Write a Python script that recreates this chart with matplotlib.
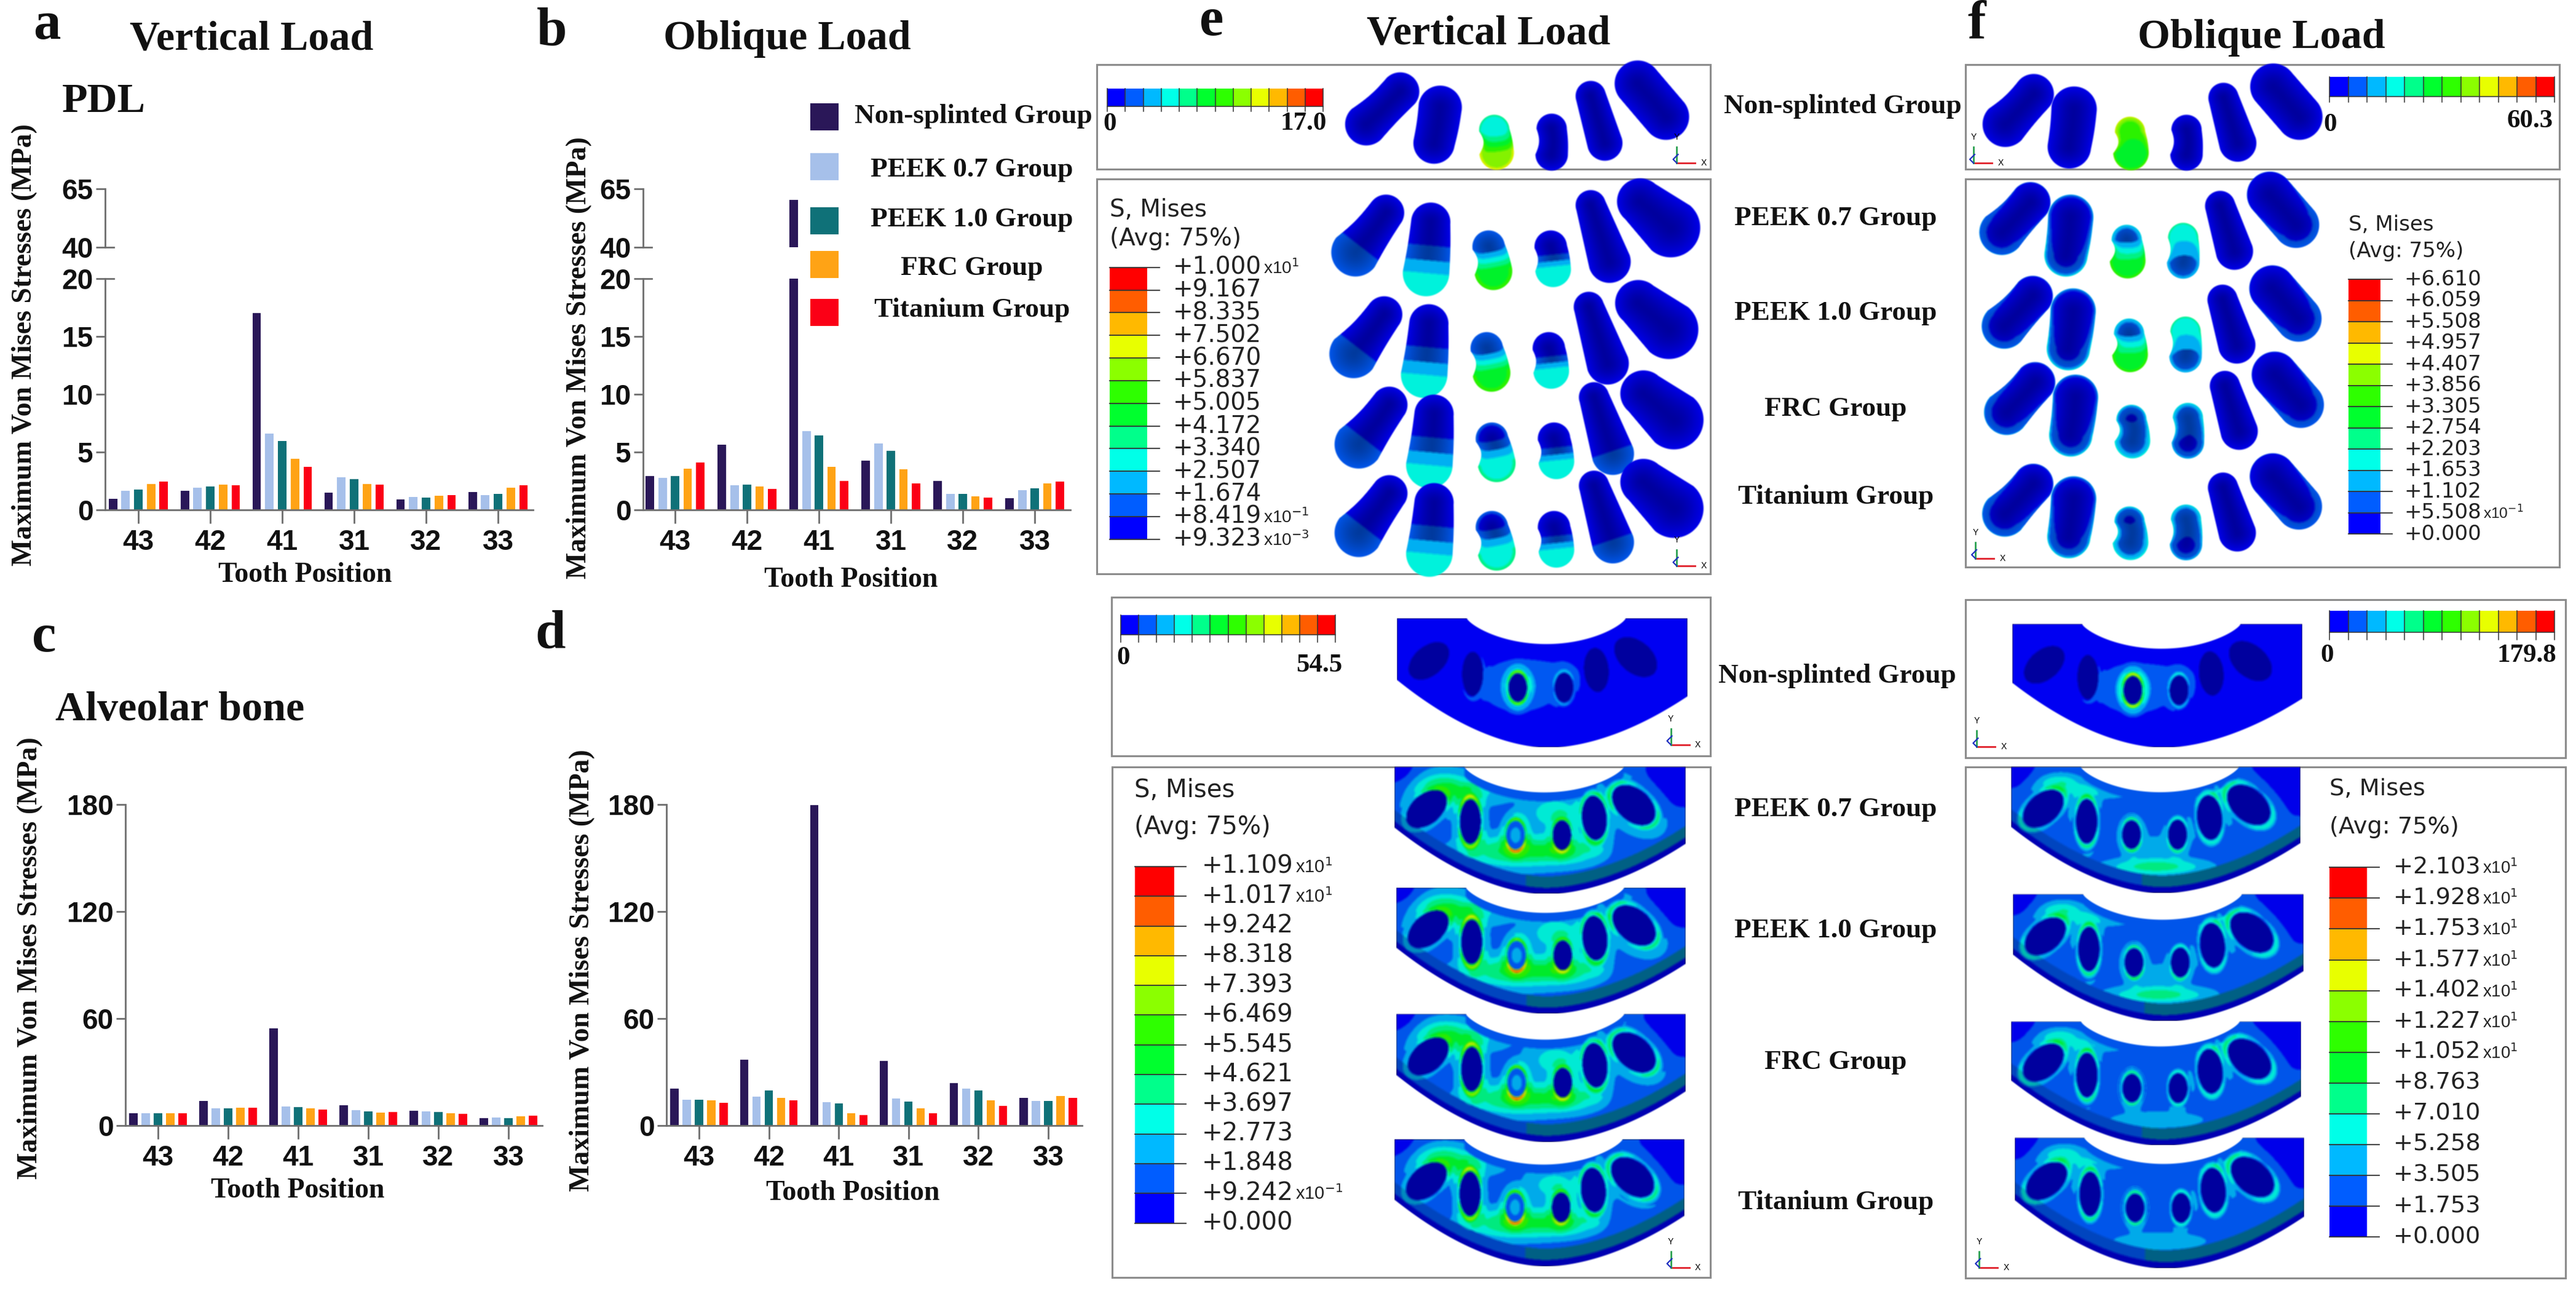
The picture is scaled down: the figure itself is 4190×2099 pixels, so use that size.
import numpy as np
import matplotlib
matplotlib.use("Agg")
import matplotlib.pyplot as plt
from matplotlib.patches import Rectangle
from matplotlib.lines import Line2D

W, H = 4190, 2099
SERIF = "Liberation Serif"
SANS = "Liberation Sans"

# ---------------- data ----------------
teeth = ["43", "42", "41", "31", "32", "33"]
groups = ["Non-splinted Group", "PEEK 0.7 Group", "PEEK 1.0 Group", "FRC Group", "Titanium Group"]
group_colors = ["#2a1758", "#a6c0ea", "#0f7178", "#ffa315", "#fb0016"]

a_non = [0.95, 1.63, 17.0, 1.50, 0.92, 1.56]
a_p07 = [1.63, 1.93, 6.58, 2.81, 1.12, 1.29]
a_p10 = [1.73, 2.00, 5.97, 2.64, 1.08, 1.36]
a_frc = [2.24, 2.17, 4.44, 2.24, 1.22, 1.93]
a_ti = [2.44, 2.14, 3.73, 2.20, 1.25, 2.14]

b_non = [2.92, 5.66, 60.3, 4.27, 2.51, 1.02]
b_p07 = [2.78, 2.14, 6.81, 5.73, 1.36, 1.69]
b_p10 = [2.92, 2.17, 6.41, 5.08, 1.36, 1.86]
b_frc = [3.59, 2.00, 3.73, 3.49, 1.19, 2.27]
b_ti = [4.07, 1.80, 2.51, 2.31, 1.05, 2.44]

c_non = [6.8, 13.9, 54.5, 11.4, 8.4, 4.2]
c_p07 = [6.8, 9.7, 10.6, 8.6, 7.9, 4.4]
c_p10 = [6.8, 9.7, 10.3, 7.9, 7.5, 4.2]
c_frc = [7.0, 10.1, 9.5, 7.3, 7.0, 5.3]
c_ti = [7.0, 9.9, 8.8, 7.7, 6.4, 5.5]

d_non = [20.7, 37.0, 179.8, 36.1, 23.8, 15.4]
d_p07 = [14.5, 16.3, 13.0, 15.2, 20.7, 13.9]
d_p10 = [14.5, 19.6, 12.3, 13.6, 19.6, 13.9]
d_frc = [14.3, 15.4, 7.0, 9.7, 14.1, 16.7]
d_ti = [12.8, 14.1, 5.9, 7.0, 11.2, 15.4]

e_teeth_labels = ["+1.000", "+9.167", "+8.335", "+7.502", "+6.670", "+5.837", "+5.005",
                  "+4.172", "+3.340", "+2.507", "+1.674", "+8.419", "+9.323"]
f_teeth_labels = ["+6.610", "+6.059", "+5.508", "+4.957", "+4.407", "+3.856", "+3.305",
                  "+2.754", "+2.203", "+1.653", "+1.102", "+5.508", "+0.000"]
e_bone_labels = ["+1.109", "+1.017", "+9.242", "+8.318", "+7.393", "+6.469", "+5.545",
                 "+4.621", "+3.697", "+2.773", "+1.848", "+9.242", "+0.000"]
f_bone_labels = ["+2.103", "+1.928", "+1.753", "+1.577", "+1.402", "+1.227", "+1.052",
                 "+8.763", "+7.010", "+5.258", "+3.505", "+1.753", "+0.000"]

abaqus = np.array([(0, 0, 255), (0, 93, 255), (0, 185, 255), (0, 255, 232), (0, 255, 139), (0, 255, 46),
                   (46, 255, 0), (139, 255, 0), (232, 255, 0), (255, 185, 0), (255, 93, 0), (255, 0, 0)]) / 255.0

# ---------------- figure ----------------
fig = plt.figure(figsize=(W / 100, H / 100), dpi=100, facecolor="white")
AXC = "#6e6e6e"


def add_ax(l, r, top, bottom):
    ax = fig.add_axes([l / W, 1 - bottom / H, (r - l) / W, (bottom - top) / H])
    ax.patch.set_alpha(0)
    for s in ("top", "right"):
        ax.spines[s].set_visible(False)
    return ax


def bars(ax, series, x_sp, x_end, tick0, spacing, pitch, barw):
    ax.set_xlim((x_sp - tick0) / spacing, (x_end - tick0) / spacing)
    for i, (vals, col) in enumerate(zip(series, group_colors)):
        ax.bar(np.arange(len(teeth)) + (i - 2) * pitch / spacing, vals, barw / spacing, color=col, linewidth=0)


def style(ax, ticks):
    for s in ("left", "bottom"):
        ax.spines[s].set_color(AXC)
        ax.spines[s].set_linewidth(2.0)
    ax.set_yticks(ticks)
    ax.tick_params(axis="y", length=11, width=2.0, color=AXC, labelsize=33, pad=3, labelcolor="#111111")
    ax.tick_params(axis="x", length=16, width=2.0, color=AXC, labelsize=33, pad=6, labelcolor="#111111")
    for t in ax.get_xticklabels() + ax.get_yticklabels():
        t.set_fontfamily(SANS)
        t.set_fontweight("bold")


def broken_panel(series, x_sp, x_end, tick0, spacing, pitch, barw):
    low = add_ax(x_sp, x_end, 453, 829)
    up = add_ax(x_sp, x_end, 307, 402)
    for ax in (low, up):
        bars(ax, series, x_sp, x_end, tick0, spacing, pitch, barw)
    low.set_ylim(0, 20)
    up.set_ylim(40, 65)
    low.set_xticks(range(len(teeth)), teeth)
    style(low, [0, 5, 10, 15, 20])
    style(up, [40, 65])
    up.spines["bottom"].set_visible(False)
    up.xaxis.set_visible(False)
    for ax, frac in ((low, 1.0), (up, 0.0)):
        ax.add_line(Line2D([0, 14 / (x_end - x_sp)], [frac, frac], transform=ax.transAxes,
                           color=AXC, lw=2.0, clip_on=False))


def plain_panel(series, x_sp, x_end, tick0, spacing, pitch, barw):
    ax = add_ax(x_sp, x_end, 1308, 1830)
    bars(ax, series, x_sp, x_end, tick0, spacing, pitch, barw)
    ax.set_ylim(0, 180)
    ax.set_xticks(range(len(teeth)), teeth)
    style(ax, [0, 60, 120, 180])


broken_panel([a_non, a_p07, a_p10, a_frc, a_ti], 171, 867, 225, 117, 20.7, 13.8)
broken_panel([b_non, b_p07, b_p10, b_frc, b_ti], 1046, 1741, 1098, 117, 20.4, 13.8)
plain_panel([c_non, c_p07, c_p10, c_frc, c_ti], 204, 882, 257, 114, 20.0, 13.2)
plain_panel([d_non, d_p07, d_p10, d_frc, d_ti], 1084, 1760, 1137, 113.6, 20.0, 13.2)

ov = fig.add_axes([0, 0, 1, 1], zorder=10)
ov.set_xlim(0, W)
ov.set_ylim(H, 0)
ov.axis("off")
ov.set_autoscale_on(False)


def serif(x, y, s, size, **kw):
    kw.setdefault("ha", "center")
    kw.setdefault("va", "center")
    ov.text(x, y, s, fontsize=size, family=SERIF, fontweight="bold", color="#111111", **kw)


for (x, y, s) in [(76, 42, "a"), (898, 52, "b"), (72, 1038, "c"), (895, 1032, "d"), (1971, 36, "e"), (3215, 40, "f")]:
    serif(x, y, s, 64)
serif(409, 64, "Vertical Load", 49)
serif(1280, 64, "Oblique Load", 49)
serif(2421, 55, "Vertical Load", 49)
serif(3678, 62, "Oblique Load", 49)
serif(169, 165, "PDL", 49)
serif(293, 1155, "Alveolar bone", 49)

YL = "Maximum Von Mises Stresses (MPa)"
for x, y in [(40, 561), (942, 582), (49, 1558), (947, 1578)]:
    serif(x, y, YL, 33, rotation=90)
for x, y in [(496, 935), (1384, 943), (484, 1936), (1387, 1940)]:
    serif(x, y, "Tooth Position", 33)

for top, col in zip([168, 249, 337, 408, 486], group_colors):
    ov.add_patch(Rectangle((1318, top), 46, 44, facecolor=col, edgecolor="none"))
for y, s, x in zip([189, 276, 357, 436, 504], groups, [1583, 1581, 1581, 1581, 1581]):
    serif(x, y, s, 32.5)

for x, y, s in zip([2997, 2986, 2986, 2986, 2986], [173, 355, 509, 665, 808], groups):
    serif(x, y, s, 32.5)
for x, y, s in zip([2988, 2986, 2986, 2986, 2986], [1099, 1316, 1513, 1727, 1955], groups):
    serif(x, y, s, 32.5)

for l, t, r, b in [(1784, 105, 2782, 275), (1784, 291, 2782, 933), (3197, 105, 4163, 275), (3197, 291, 4163, 922),
                   (1808, 971, 2782, 1229), (1809, 1247, 2782, 2077), (3197, 975, 4173, 1232), (3197, 1247, 4173, 2078)]:
    ov.add_patch(Rectangle((l, t), r - l, b - t, fill=False, edgecolor="#8c8c8c", lw=2.2))


def hbar(l, r, t, b, tickb, lab0, lab1, xl0, xl1, yl0, yl1):
    xs = np.linspace(l, r, 13)
    for i in range(12):
        ov.add_patch(Rectangle((xs[i], t), xs[i + 1] - xs[i], b - t, facecolor=abaqus[i], edgecolor="none"))
    for x in xs:
        ov.plot([x, x], [t, tickb], color="#333333", lw=1.1)
    ov.plot([l, r], [b, b], color="#333333", lw=1.1)
    serif(xl0, yl0, lab0, 31)
    serif(xl1, yl1, lab1, 31)


hbar(1801, 2152, 144, 173, 181, "0", "17.0", 1805, 2120, 202, 201)
hbar(3789, 4155, 125, 157, 166, "0", "60.3", 3790, 4115, 203, 197)
hbar(1823, 2172, 1000, 1032, 1044, "0", "54.5", 1827, 2146, 1070, 1082)
hbar(3789, 4155, 993, 1028, 1040, "0", "179.8", 3785, 4110, 1066, 1066)


def vbar(title_x, y1, y2, l, r, t, b, tick_r, lab_x, labels, fs, mult):
    ov.text(title_x, y1, "S, Mises", fontsize=fs, family="DejaVu Sans", va="center", color="#222222")
    ov.text(title_x, y2, "(Avg: 75%)", fontsize=fs, family="DejaVu Sans", va="center", color="#222222")
    ys = np.linspace(t, b, 13)
    for i in range(12):
        ov.add_patch(Rectangle((l, ys[i]), r - l, ys[i + 1] - ys[i], facecolor=abaqus[11 - i], edgecolor="none"))
    for y in ys:
        ov.plot([l, tick_r], [y, y], color="#333333", lw=1.3)
    for y, s, m in zip(ys, labels, mult):
        ov.text(lab_x, y, s, fontsize=fs, family="DejaVu Sans", va="center", color="#222222")
        if m:
            width = fs * 3.72 / 0.72
            ov.text(lab_x + width + 3, y + 1, "x10$^{%s}$" % m, fontsize=fs * 0.72, family=SANS, va="center",
                    color="#222222")


E1 = lambda v: 1780 + v * 1200 / 1568
Y1 = lambda v: v * 960 / 1568
F1 = lambda v: 2980 + v * 1210 / 1568
Y2 = lambda v: 960 + v * 1139 / 1568

vbar(E1(33), Y1(557), Y1(633), E1(33), E1(112), Y1(710), Y1(1432), E1(138), E1(167), e_teeth_labels, 28,
     ["1"] + [""] * 10 + ["-1", "-3"])
vbar(F1(1088), Y1(597), Y1(668), F1(1088), F1(1156), Y1(742), Y1(1418), F1(1180), F1(1205), f_teeth_labels, 24.5,
     [""] * 11 + ["-1", ""])
vbar(E1(85), Y2(448), Y2(530), E1(86), E1(170), Y2(618), Y2(1416), E1(195), E1(228), e_bone_labels, 29,
     ["1", "1"] + [""] * 9 + ["-1", ""])
vbar(F1(1048), Y2(445), Y2(530), F1(1048), F1(1128), Y2(620), Y2(1447), F1(1153), F1(1183), f_bone_labels, 27.5,
     ["1"] * 7 + [""] * 6)


def triad(x, y):
    ov.plot([x, x + 30], [y, y], color="#e0202a", lw=2)
    ov.plot([x, x], [y, y - 26], color="#2aa050", lw=2)
    ov.plot([x, x - 6, x + 2], [y, y - 6, y - 14], color="#2030c0", lw=1.6)
    ov.text(x + 44, y, "X", fontsize=10, family=SANS, ha="center", va="center")
    ov.text(x, y - 42, "Y", fontsize=10, family=SANS, ha="center", va="center")


for x, y in [(E1(1238), Y1(433)), (E1(1238), Y1(1503)), (F1(298), Y1(433)), (F1(302), Y1(1483)),
             (E1(1225), Y2(345)), (E1(1225), Y2(1515)), (F1(305), Y2(350)), (F1(310), Y2(1515))]:
    triad(x, y)


# ---------------- FEA illustrations ----------------
def blur(a, n=2):
    k = np.ones(2 * n + 1) / (2 * n + 1)
    a = np.apply_along_axis(lambda c: np.convolve(c, k, mode="same"), 0, a)
    return np.apply_along_axis(lambda c: np.convolve(c, k, mode="same"), 1, a)


def colourise(L, shade, alpha):
    idx = np.clip(np.floor(L).astype(int), 0, 11)
    rgb = abaqus[idx] * shade[..., None]
    out = [blur(rgb[..., i]) for i in range(3)] + [blur(alpha, 1)]
    return np.clip(np.dstack(out), 0, 1)


def tooth(x0, y0, r0, x1, y1, r1, lo, hi, rim=0.0, p=1.0, bend=0.0, waist=0.0, rimw=5.0):
    m = max(r0, r1) + abs(bend) + 8
    xmin, xmax = int(min(x0, x1) - m), int(max(x0, x1) + m)
    ymin, ymax = int(min(y0, y1) - m), int(max(y0, y1) + m)
    X, Y = np.meshgrid(np.arange(xmin, xmax) + .5, np.arange(ymin, ymax) + .5)
    dx, dy = x1 - x0, y1 - y0
    ln = np.hypot(dx, dy)
    proj = ((X - x0) * dx + (Y - y0) * dy) / ln
    t = np.clip(proj / ln, 0, 1)
    s = ((X - x0) * (-dy) + (Y - y0) * dx) / ln
    d = np.hypot(proj - t * ln, s - bend * np.sin(np.pi * t))
    r = r0 + (r1 - r0) * t - waist * np.sin(np.pi * t)
    margin = r - d
    grad = lo + (hi - lo) * t ** p if hi >= lo else hi + (lo - hi) * (1 - t) ** p
    L = grad + rim * np.exp(-np.clip(margin, 0, None) / rimw)
    shade = np.where(L < 2, 0.62 + 0.3 * np.clip(d / r, 0, 1) ** 1.5, 0.95)
    ov.imshow(colourise(L, shade, np.clip(margin + .5, 0, 1)), extent=(xmin, xmax, ymax, ymin),
              aspect="auto", interpolation="bilinear", zorder=2)


TS = [.82, .84, .88, .88, .82, .80]
SHAPE = [(1, 2), (1, 0), (-4, 3), (-3, 2), (0, 0), (0, 0)]
e_tooth_geo = [(578, 330, 42, 650, 243, 38), (722, 380, 40, 735, 285, 42), (850, 345, 28, 855, 405, 32),
               (972, 342, 28, 972, 410, 30), (1055, 255, 30, 1085, 380, 35), (1155, 222, 47, 1215, 310, 47)]
e_row_geo = [(555, 670, 48, 620, 565, 36), (705, 725, 45, 715, 590, 38), (838, 655, 30, 848, 720, 35),
             (970, 655, 30, 975, 715, 33), (1055, 545, 30, 1095, 695, 42), (1160, 535, 47, 1225, 605, 60)]
f_tooth_geo = [(365, 330, 45, 425, 250, 40), (500, 390, 42, 510, 290, 44), (628, 350, 28, 630, 405, 33),
               (747, 345, 28, 747, 410, 30), (825, 260, 30, 855, 380, 37), (930, 230, 47, 985, 310, 47)]

# level, level, rim, gradient power for each of the six teeth
e_top_lv = [(0, 0, 0, 1), (0, 0, 0, 1), (3, 7.2, 1.6, 1.2), (0, 0, 0, 1), (0, 0, 0, 1), (0, 0, 0, 1)]
e_hi_lv = [(1.4, 0, 0, 2), (3.0, 0, 0, 1.4), (1.2, 5.8, .6, 1.2), (.3, 3.6, 0, 1.5), (0, .5, 0, 1), (0, .5, 0, 1)]
e_lo_lv = [(1.4, 0, 0, 2), (3.0, 0, 0, 1.4), (.8, 3.8, .5, 1.2), (.3, 3.2, 0, 1.5), (0, 1.2, 0, 4), (0, .5, 0, 1)]
f_top_lv = [(0, 0, 0, 1), (0, 0, 0, 1), (6.5, 5, 2, 1), (0, 0, 0, 1), (0, 0, 0, 1), (0, 0, 0, 1)]
f_hi_lv = [(.9, 0, 1.1, 1), (.9, 0, 2.4, 1), (1.5, 5.2, 1.6, 1), (3.2, 1.5, 1.2, 1), (0, 0, .9, 1), (0, .9, 1.0, 1)]
f_lo_lv = [(.9, 0, 1.2, 1), (.9, 0, 2.2, 1), (.9, 1.6, 2.2, 1), (1.4, .8, 2.0, 1), (0, 0, .9, 1), (0, .9, 1.0, 1)]


def draw_row(xf, yf, geo, levels, sx=0, sy=0):
    for g, lv, sc, (bd, ws) in zip(geo, levels, TS, SHAPE):
        tooth(xf(g[0] + sx), yf(g[1] + sy), g[2] * sc, xf(g[3] + sx), yf(g[4] + sy), g[5] * sc,
              lv[0], lv[1], lv[2], lv[3], bd, ws)


draw_row(E1, Y1, e_tooth_geo, e_top_lv)
draw_row(F1, Y1, f_tooth_geo, f_top_lv)
for (sx, sy), lvs in zip([(0, 0), (-4, 270), (7, 510), (7, 745)], [e_hi_lv, e_hi_lv, e_lo_lv, e_lo_lv]):
    draw_row(E1, Y1, e_row_geo, lvs, sx, sy)
for (sx, sy), lvs in zip([(-7, 287), (-2, 536), (3, 765), (-1, 1035)], [f_hi_lv, f_hi_lv, f_lo_lv, f_lo_lv]):
    draw_row(F1, Y1, f_tooth_geo, lvs, sx, sy)

sockets = [(.11, .33, 24, 38, 50), (.26, .43, 17, 36, 0), (.415, .536, 15, 23, 0),
           (.574, .536, 15, 24, 0), (.685, .40, 20, 36, -5), (.82, .30, 26, 40, -50)]


def bone(l, r, t, b, base, lobes, rims, inner, band=1.0, base_shade=.92):
    xs, ys = np.arange(int(l), int(r)) + .5, np.arange(int(t), int(b)) + .5
    X, Y = np.meshgrid(xs, ys)
    w, h = r - l, b - t
    u, v = (X - l) / w, (Y - t) / h
    q = np.clip(np.abs(u - .513) / .273, 0, 1)
    vt = .2 * (1 - q ** 2) ** .75
    vb = np.where(u < .52, .476 + .524 * (1 - (np.clip(.52 - u, 0, None) / .52) ** 1.8),
                  .6 + .4 * (1 - (np.clip(u - .52, 0, None) / .48) ** 1.8))
    margin = np.minimum(v - vt, vb - v) * h
    alpha = np.clip(margin + .5, 0, 1)
    L = np.full(X.shape, float(base))
    for lu, lv, su, sv, amp in lobes:
        L = L + amp * np.exp(-((u - lu) / su) ** 2 - ((v - lv) / sv) ** 2)
    L = L - base * (np.exp(-(u / .07) ** 2 - (v / .14) ** 2) + np.exp(-((u - 1) / .14) ** 2 - (v / .32) ** 2))
    L = np.where((v - vt < .07) & (q < 1), np.minimum(L, 1.0 if base > 1 else L), L)
    shade = np.full(L.shape, base_shade)
    if band > 0:
        edge = vb - v
        low = (edge < .14 * band) & (edge >= .05 * band)
        L = np.where(low, np.where(u > .45, 2.2, 1.2), L)
        shade = np.where(low, np.where(u > .45, .52, .75), shade)
        rim_low = edge < .05 * band
        L = np.where(rim_low, 0.3, L)
        shade = np.where(rim_low, .7, shade)
    hole = np.zeros(L.shape, bool)
    hole_val = np.zeros(L.shape)
    for (su, sv, a, bb, th), rm, inn in zip(sockets, rims, inner):
        dx, dy = X - (l + su * w), Y - (t + sv * h)
        c, s = np.cos(np.radians(th)), np.sin(np.radians(th))
        along, across = dx * s - dy * c, dx * c + dy * s
        rho = np.hypot(along / bb, across / a)
        ends = (along / np.maximum(np.hypot(along, across), 1e-6)) ** 2
        L = L + rm * (.35 + .65 * ends) * np.exp(-((rho - 1.14) / .13) ** 2)
        L = L + .22 * rm * np.exp(-((rho - 1.5) / .3) ** 2)
        inside = rho < 1
        hole |= inside
        hole_val = np.where(inside, inn * np.clip(1.1 - rho, 0, 1) + inn * .7, hole_val)
    L = np.where(hole, hole_val, L)
    shade = np.where(hole & (hole_val < 1), .62, shade)
    ov.imshow(colourise(L, shade, alpha), extent=(int(l), int(r), int(b), int(t)),
              aspect="auto", interpolation="bilinear", zorder=2)


top_lobes = [(.42, .52, .16, .24, 2.0), (.6, .42, .1, .16, .6)]
e_lobes = [(.17, .17, .1, .12, 3.4), (.55, .36, .1, .14, 2.1), (.42, .66, .17, .12, 3.9), (.6, .66, .1, .1, 2.2),
           (.30, .2, .1, .1, 1.2)]
f_lobes = [(.17, .13, .08, .08, 2.2), (.5, .79, .17, .07, 3.2), (.5, .62, .1, .12, 1.0), (.32, .2, .12, .07, 1.2),
           (.7, .15, .08, .08, 1.0)]
f_lobes_weak = [(.17, .13, .08, .08, 2.0), (.5, .79, .17, .07, 1.7), (.32, .2, .12, .07, 1.0), (.7, .15, .08, .08, .8)]

top_rims_e = [0, .6, 5.5, 1.5, .3, 0]
top_rims_f = [0, .5, 7, 2, .3, 0]
e_rims = [1.5, 4.5, 5, 3, 3, 3]
f_rims = [2.2, 3.0, 3.2, 2.5, 2.4, 2.6]
none_in = [0, 0, 0, 0, 0, 0]
e_in = [0, 0, 1.6, 0, 0, 0]

bone(E1(643), E1(1262), Y2(62), Y2(352), 0.0, top_lobes, top_rims_e, none_in, band=0, base_shade=.95)
for (a, b_, c, d), base in zip([(638, 1258, 395, 680), (642, 1258, 665, 948), (642, 1258, 948, 1235),
                                (638, 1255, 1228, 1513)], [1.6, 1.6, 1.5, 1.4]):
    bone(E1(a), E1(b_), Y2(c), Y2(d), base, e_lobes, e_rims, e_in)
bone(F1(380), F1(992), Y2(75), Y2(352), 0.0, top_lobes, top_rims_f, none_in, band=0, base_shade=.95)
for (a, b_, c, d), lb in zip([(378, 988, 395, 678), (382, 995, 680, 965), (378, 990, 965, 1243),
                              (385, 996, 1225, 1518)], [f_lobes, f_lobes, f_lobes_weak, f_lobes_weak]):
    bone(F1(a), F1(b_), Y2(c), Y2(d), 1.3, lb, f_rims, none_in, band=1.0)

fig.savefig("out.png", dpi=100, facecolor="white")
